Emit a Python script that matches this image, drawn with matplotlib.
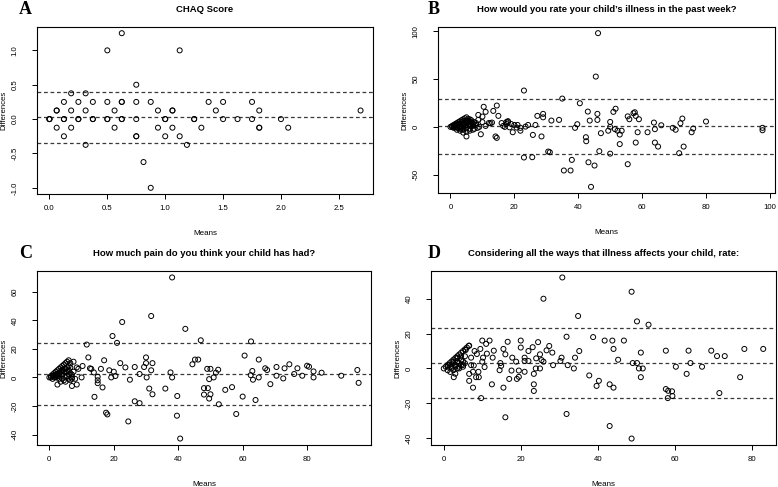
import matplotlib.pyplot as plt

plt.rcParams['font.family'] = ['Liberation Sans', 'DejaVu Sans']
plt.rcParams['axes.unicode_minus'] = False

# ---- panel A : CHAQ score ----
chaq_means = [0, 0, 0, 0.0625, 0.0625, 0.0625, 0.125, 0.125, 0.125, 0.125, 0.1875, 0.1875, 0.1875,
              0.25, 0.25, 0.25, 0.3125, 0.3125, 0.3125, 0.375, 0.375, 0.375, 0.5, 0.5, 0.5, 0.5,
              0.5625, 0.5625, 0.625, 0.625, 0.625, 0.625, 0.625, 0.75, 0.75, 0.75, 0.75, 0.75,
              0.8125, 0.875, 0.875, 0.9375, 0.9375, 1.0, 1.0, 1.0, 1.0625, 1.0625, 1.0625, 1.125,
              1.125, 1.1875, 1.25, 1.25, 1.3125, 1.375, 1.4375, 1.5, 1.5, 1.625, 1.75, 1.75,
              1.8125, 1.8125, 1.8125, 2.0, 2.0625, 2.6875]
chaq_diffs = [0, 0, 0, 0.125, 0.125, -0.125, 0.25, 0, 0, -0.25, 0.375, 0.125, -0.125,
              0.25, 0, 0, 0.375, 0.125, -0.375, 0.25, 0, 0, 1.0, 0.25, 0, 0,
              0.125, -0.125, 1.25, 0.25, 0.25, 0, 0, 0.5, 0.25, 0, -0.25, -0.25,
              -0.625, 0.25, -1.0, 0.125, -0.125, 0, 0, -0.25, 0.125, 0.125, -0.125, 1.0,
              -0.25, -0.375, 0, 0, -0.125, 0.25, 0.125, 0.25, 0, 0, 0.25, 0,
              0.125, -0.125, -0.125, 0, -0.125, 0.125]
chaq_loa = [0.024, -0.35, 0.39]

# ---- panel B : illness in the past week ----
week_means = [0, 0.5, 1, 1.5, 2, 2.5, 3, 3.5, 4, 4.5, 5, 0.5, 1, 1.5, 2, 2.5, 3, 3.5, 4, 4.5, 5, 5.5,
              1, 2, 3, 4, 5, 6, 2, 3, 4, 5, 6, 7, 3, 4, 5, 6, 7, 8, 5.5, 6, 6.5, 7, 7.5, 8, 8.5, 9,
              1.5, 2.5, 3.5, 4.5, 5.5, 6.5, 2, 3, 4, 5, 6, 7, 1, 2.5, 3.5, 4.5, 6, 7.5, 4, 5, 6.5,
              9.5, 8.7, 8.7, 10, 10.4, 11, 11, 10, 12, 12.5, 13, 13.4, 14.5, 15, 14.1, 14.5, 16,
              16.5, 17, 17.5, 17.5, 18, 18.5, 18, 19, 19.5, 20, 20.7, 21, 21.9, 21.9, 23.5, 24.3,
              23, 23, 25.6, 25.8, 26.6, 27.2, 28.5, 29, 29, 30.6, 31.1, 31.6, 34, 35, 35.5, 37.6,
              38, 39, 39.7, 40.5, 42.4, 42.5, 43, 43.2, 43.6, 44, 45.1, 45.5, 46, 46.2, 46.6, 47.1,
              46, 49.4, 50, 50, 50, 51, 51.5, 51.7, 52.3, 53, 53, 53.6, 55.5, 55.5, 56, 57.3, 57.7,
              58, 58, 58.6, 59, 61.7, 63.7, 64, 64, 65, 66, 69.6, 70.5, 71.6, 72, 72.6, 73, 75.5,
              76, 80, 97.7, 97.7]
week_diffs = [0, 1, 2, 3, 4, 5, 6, 7, 8, 9, 10, 0, 1, 1, 2, 2, 3, 3, 4, 4, 5, 6,
              -1, -1, -2, -3, -5, -2, -3, -4, -6, -10, -4, -3, 0, 1, 2, 3, 4, 4, 6, 8, 5, 3, 5, 2, -1, 0,
              2, 3, 5, 6, 8, 7, 0, 0, 3, 6, 5, 1, 0, -1, -1, 1, 2, -2, -2, -1, 1,
              -7.7, 7.3, 12.5, 10.8, 21, 15.7, 1, 5, 4, 3.8, 4.5, 16.7, 22.3, 11.5, -10, -11.5, 4,
              1, 0, 3, 5, 6, -0.5, 5, 3, -5.6, 2, -0.7, 2, -1, -4, 0.3, 2,
              38, -32, -31.7, -8.4, 2, 11.5, -10, 13.6, 10, -25.8, -26.5, 6.6, 7.3, 29.6, -45.6, -45.6,
              -34.5, -1, 2.8, 24.7, -10.8, -15, 16, -37, 6.6, -62.7, -40.4, 52.6, 7.3, 98, -25.4, -6.6,
              13.6, -4, 5.2, 0, -28, 15.7, -2.4, 19, -4, -8, -18, -4, -39, 11, 8, 14.3, 15.3,
              11.5, -16.4, -5.6, 8, -5.6, 4.5, -2.4, -16.4, -20.6, 1.7, -1, -3, -27.5, 3.8, 8.7, -20.6, -5.6,
              -1.7, 5.6, -1, -3.5]
week_loa = [0.7, -28.5, 29.6]

# ---- panel C : pain ----
pain_means = [0, 0.5, 1, 1.5, 2, 2.5, 3, 3.5, 4, 4.5, 5, 5.5, 6, 0.5, 1, 1.5, 2, 2.5, 3, 3.5, 4, 4.5,
              5, 5.5, 6, 6.5, 1, 2, 2.5, 3, 3.5, 4, 4.5, 5, 5.5, 6, 6.5, 7, 7, 7.5, 8, 8.5, 8.5, 9,
              6, 4, 3, 2, 7, 6.5, 1.5, 2.5, 3.5, 4.5, 5.5, 3, 4, 5, 6, 7, 5, 6.5, 7.5,
              10, 10.3, 11.6, 12.1, 12.6, 13, 13.8, 15, 15, 15, 14, 16, 16.5,
              17, 17.6, 18, 18.6, 19.2, 19.6, 20, 20.5, 21, 22, 22.6, 23.6, 24.5, 25, 26.5, 26.5, 28,
              28, 29.4, 30, 30, 30.2, 31, 31.6, 31.6, 32, 32, 36, 37.6, 38.1, 38.1, 39.6, 39.7, 40.6,
              42.2, 44.4, 45.2, 46.2, 47, 48, 48, 49, 49.2, 49.6, 49.6, 50, 50, 51, 51.7, 52.4, 52.6,
              54.6, 56.7, 58, 60, 60.6, 62.5, 62.6, 63, 63.2, 64, 65, 65, 67, 67.6, 68.6, 70.5, 70.5,
              72.6, 73, 74.5, 76, 77, 78.5, 80, 80.6, 82, 82, 84.5, 90.6, 95.6, 96]
pain_diffs = [0, 1, 2, 3, 4, 5, 6, 7, 8, 9, 10, 11, 12, 0, 1, 0, 2, 1, 3, 2, 5, 4,
              6, 4, 8, 10, -1, 0, -5, 1, -3, 2, -2, 4, 1, -1, 3, -6, 2, 11, -1, -5, 7, 6,
              5, 5, 3, 2, -1, 7, 1, 2, 4, 6, 7, -1, -1, 0, 2, 0, -3, -2, 4,
              0, 8, 23, 14, 6.4, 6, 3.5, 0.5, -2, -4, -13.6, 6, -7,
              12, -24.7, -25.9, 5, 0, 29, 4, 1, 24.2, 10, 38.8, 7, -30.8, -1.6, 7.3, -16.7, 2.4,
              -18, 7.3, 14, 10, 0, -7.8, 43, 5, 10, -11.8, -7.8, 3.5, 70, 0, -26.8, -13, -42.8,
              34, 9.2, 12.5, 12.5, 26, -7.5, -12, 6, -7.5, -1.2, -14.8, 6, -11.8, 0, 3.3, 5.4, -18.8,
              -8.7, -6.8, -25.6, -13.4, 15.3, 1.6, 25.2, 4.5, -1.6, -15.8, 12.5, 0, 6.4, 5.2, -4.7, 7.3, 1.2,
              -0.7, 6.4, 9.2, 2.4, 6.4, 1.2, 8.2, 7.5, 4.2, 0, 3.3, 1.2, 5.2, -3.8]
pain_loa = [2.4, -19.5, 24.2]

# ---- panel D : overall effect of illness ----
overall_means = [0, 0.5, 1, 1.5, 2, 2.5, 3, 3.5, 4, 4.5, 5, 5.5, 6, 6.5, 1, 1.5, 2, 2.5, 3, 3.5, 4,
                 4.5, 5, 5.5, 1, 1.7, 2.6, 2.5, 3, 3.5, 4, 4.5, 5, 5.5, 2, 3, 4, 5, 3.5, 4.5, 2.5,
                 5.7, 6.6, 6.6,
                 6.6, 7.1, 7.1, 7.6, 7.6, 7.8, 8, 8.4, 8.6, 9, 9.1, 9.5, 9.7, 10, 10, 10.2, 10.6,
                 11, 11.2, 11.9, 12.5, 12.7, 13, 14.5, 14.7, 14.9, 15.5, 15.5, 16, 16, 16.6, 17,
                 17.6, 17.8, 18.8, 19, 19.5, 19.5, 20, 20, 21, 21, 21, 22, 22, 23.1, 23.4, 23.4,
                 23.4, 23.9, 24, 24.5, 25, 25, 25.4, 25.9, 25.9, 26.7, 27.4, 28.2, 28.4, 30.3, 30.6,
                 30.8, 31.9, 31.9, 32.2, 33.8, 34.1, 34.9, 35.2, 37.8, 38.8, 39.7, 40.3, 41.8, 43.1,
                 43.1, 43.8, 44.1, 44.1, 45.3, 46.8, 48.8, 48.8, 49.1, 50.2, 50.2, 50.7, 51.2, 51.2,
                 51.7, 53.2, 57.7, 57.7, 58.3, 58.2, 59.3, 59.4, 60.3, 63.1, 63.6, 64.1, 67.1, 69.5,
                 71, 71.6, 73, 77, 78.1, 83]
overall_diffs = [0, 1, 2, 3, 4, 5, 6, 7, 8, 9, 10, 11, 12, 13, 1, 2, 1, 3, 2, 4, 3,
                 5, 4, 7, -1, -2, -5, -1, -3, 0, 1, 2, 1, 3, 0, 1, 0, 2, 6, 7, 4,
                 10.6, 13.1, -3.1,
                 -7.1, 6.2, 1.9, -1.9, -11, 1.7, 10, -5, 8.3, -1.9, -5, 11.2, -17, 16, 3.9, 6.2, 0.8,
                 14.1, 8.5, 16, -9.1, 6.2, 10.2, -1, 3.1, 1.5, 11.2, -11, 8.1, -28, 15.3, -6,
                 -1.2, 6.2, 3.9, -6, -1.2, -4.8, 16, 12, 6.2, 4.3, -1.9, 10, 4.3, 12.2, -3.1, -9.1,
                 -12.9, 0, 5.8, 15.1, 8.1, 0, 4.8, 3.9, 40, 10.4, 12.9, 9.1, 1.9, 4.3, 6.2,
                 52.2, 18.2, -26.1, 1.9, 0, 6.2, 30.1, 10, -4, 18, -10, -7.1, 16, -9.1,
                 -33, 16, 11.2, -11, 5, 16, 44, -40.2, 3.1, 3.1, 27, 0, 9.1, -5,
                 0, 25.1, 10.2, -11.8, -12.8, -17, -13.1, -15.8, 1, -3.1, 10.2, 3.1, 1, 10.2,
                 7.1, -14.1, 7.1, -5, 11.2, 11.2]
overall_loa = [3.1, -17.2, 23.4]

W, H = 778, 487
fig = plt.figure(figsize=(W / 100, H / 100), dpi=100)


def px_rect(left, top, right, bottom):
    return [left / W, 1 - bottom / H, (right - left) / W, (bottom - top) / H]


def ba_plot(rect, means, diffs, loa, xticks, yticks, fmt, title, letter, letter_x):
    ax = fig.add_axes(px_rect(*rect))
    ax.scatter(means, diffs, s=13, facecolors='none', edgecolors='black', linewidths=0.7, zorder=3)
    for h in loa:
        ax.axhline(h, color='#3a3a3a', lw=0.9, ls=(0, (3, 2.2)), zorder=2)
    # R style: 4% padding around the data range
    xr = max(means) - min(means)
    yr = max(diffs) - min(diffs)
    ax.set_xlim(min(means) - 0.04 * xr, max(means) + 0.04 * xr)
    ax.set_ylim(min(diffs) - 0.04 * yr, max(diffs) + 0.04 * yr)
    ax.set_xticks(xticks)
    ax.set_yticks(yticks)
    ax.set_xticklabels([fmt.format(v) for v in xticks])
    ax.set_yticklabels([fmt.format(v) for v in yticks], rotation=90, va='center')
    ax.tick_params(axis='both', direction='out', length=3.6, width=0.7, labelsize=5.6)
    ax.tick_params(axis='x', pad=4.5)
    ax.tick_params(axis='y', pad=9.5)
    for sp in ax.spines.values():
        sp.set_linewidth(0.8)
    w_px = rect[2] - rect[0]
    h_px = rect[3] - rect[1]
    ax.set_xlabel('Means', fontsize=5.8)
    ax.xaxis.set_label_coords(0.5, -36 / h_px)
    ax.set_ylabel('Differences', fontsize=5.6)
    ax.yaxis.set_label_coords(-30 / w_px, 0.5)
    cx = (rect[0] + rect[2]) / 2
    fig.text(cx / W, 1 - (rect[1] - 18) / H, title, ha='center', va='center',
             fontsize=6.8, fontweight='bold')
    fig.text(letter_x / W, 1 - (rect[1] - 18) / H, letter, ha='left', va='center',
             fontsize=13, fontweight='bold', family='Liberation Serif')
    return ax


ba_plot((37, 27, 373, 194), chaq_means, chaq_diffs, chaq_loa,
        [0.0, 0.5, 1.0, 1.5, 2.0, 2.5], [-1.0, -0.5, 0.0, 0.5, 1.0], '{:.1f}',
        'CHAQ Score', 'A', 19)
ba_plot((438, 27, 775, 193), week_means, week_diffs, week_loa,
        [0, 20, 40, 60, 80, 100], [-50, 0, 50, 100], '{:.0f}',
        'How would you rate your child\u2019s illness in the past week?', 'B', 428)
ba_plot((37, 271, 371, 445), pain_means, pain_diffs, pain_loa,
        [0, 20, 40, 60, 80], [-40, -20, 0, 20, 40, 60], '{:.0f}',
        'How much pain do you think your child has had?', 'C', 19)
ba_plot((431, 271, 776, 445), overall_means, overall_diffs, overall_loa,
        [0, 20, 40, 60, 80], [-40, -20, 0, 20, 40], '{:.0f}',
        'Considering all the ways that illness affects your child, rate:', 'D', 428)

fig.savefig('out.png', dpi=100)
